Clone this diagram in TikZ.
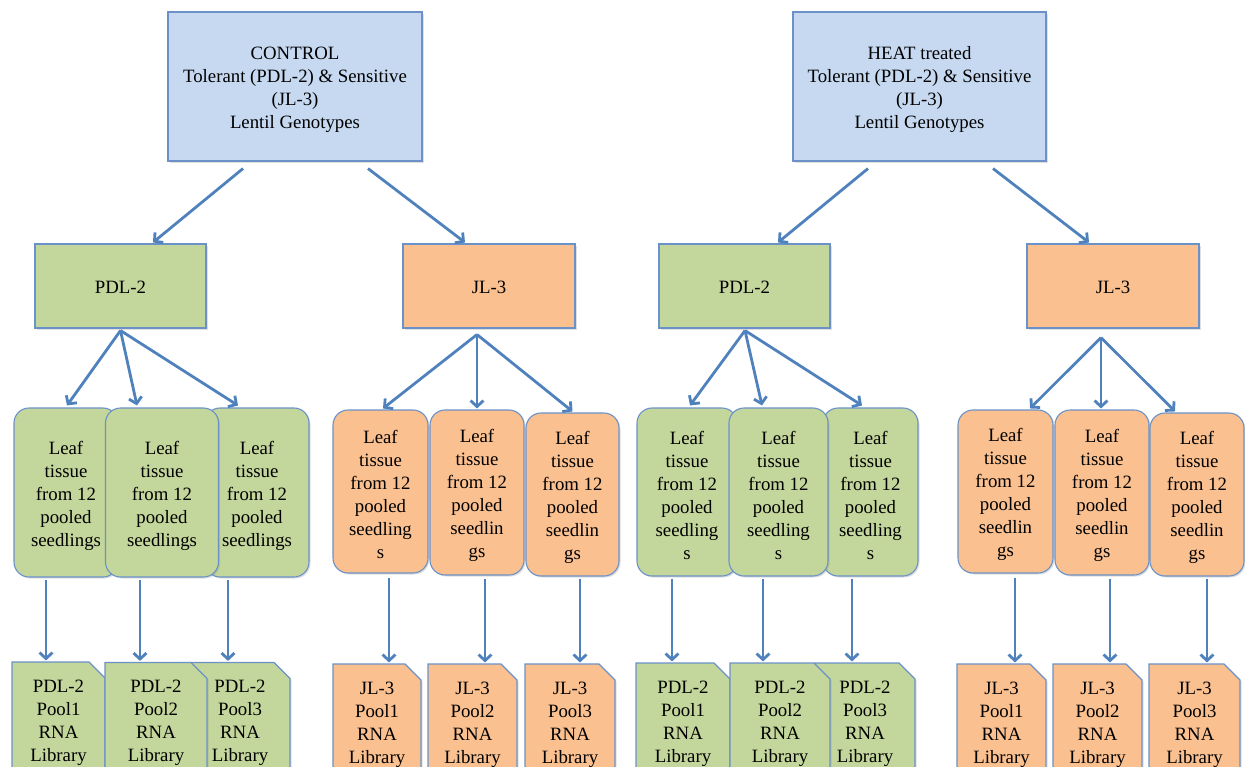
\documentclass[tikz,border=0pt]{standalone}
\usepackage{fontspec}
\setmainfont{Liberation Serif}
\usetikzlibrary{arrows.meta,shapes.misc,shadows}
\definecolor{topfill}{HTML}{C6D9F1}
\definecolor{greenfill}{HTML}{C3D69B}
\definecolor{orangefill}{HTML}{FAC090}
\definecolor{edgeblue}{HTML}{6A92C8}
\definecolor{arrowblue}{HTML}{4F81BD}
\newcommand{\fstrut}{\rule{0pt}{20pt}}
\newcommand{\sstrut}{\rule{0pt}{16pt}}
\tikzset{
  basebox/.style={draw=edgeblue, line width=1.1pt, align=center, inner sep=2pt,
    font=\fontsize{18.8}{23}\selectfont, text=black,
    drop shadow={shadow xshift=1.5pt, shadow yshift=-1.5pt, opacity=0.25}},
  topbox/.style={basebox, fill=topfill, rectangle},
  greenbox/.style={basebox, fill=greenfill, rectangle},
  orangebox/.style={basebox, fill=orangefill, rectangle},
  gleaf/.style={greenbox, rounded corners=15pt},
  oleaf/.style={orangebox, rounded corners=15pt},
  libshape/.style={chamfered rectangle, chamfered rectangle corners=north east,
    chamfered rectangle xsep=7.5pt, chamfered rectangle ysep=8.5pt},
  glib/.style={basebox, fill=greenfill, libshape},
  olib/.style={basebox, fill=orangefill, libshape},
  arr/.style={draw=arrowblue, line width=2.8pt,
    -{Straight Barb[length=6pt,width=13pt]}},
}
\begin{document}
\begin{tikzpicture}[x=1pt,y=-1pt]
\useasboundingbox (0,0) rectangle (1245,766);
\clip (0,0) rectangle (1245,766);
% top boxes
\node[topbox, minimum width=254pt, minimum height=149pt] (ctl) at (295,86.5)
  {\fstrut CONTROL\\Tolerant (PDL-2) \& Sensitive\\(JL-3)\\Lentil Genotypes};
\node[topbox, minimum width=253pt, minimum height=149pt] (heat) at (919.5,86.5)
  {\fstrut HEAT treated\\Tolerant (PDL-2) \& Sensitive\\(JL-3)\\Lentil Genotypes};
% level 2
\node[greenbox, minimum width=171pt, minimum height=84pt] (pdlA) at (120.5,286) {\sstrut PDL-2};
\node[orangebox, minimum width=172pt, minimum height=84pt] (jlA) at (489,286) {\sstrut JL-3};
\node[greenbox, minimum width=171pt, minimum height=84pt] (pdlB) at (744.5,286) {\sstrut PDL-2};
\node[orangebox, minimum width=172pt, minimum height=84pt] (jlB) at (1113,286) {\sstrut JL-3};
% leaf boxes group A (PDL-2 control)
\node[gleaf, minimum width=104pt, minimum height=169pt] (lA1) at (66,492.5)
  {\fstrut Leaf\\tissue\\from 12\\pooled\\seedlings};
\node[gleaf, minimum width=104pt, minimum height=169pt] (lA3) at (257,492.5)
  {\fstrut Leaf\\tissue\\from 12\\pooled\\seedlings};
\node[gleaf, minimum width=113pt, minimum height=169pt] (lA2) at (162,492.5)
  {\fstrut Leaf\\tissue\\from 12\\pooled\\seedlings};
% group B (JL-3 control)
\node[oleaf, minimum width=95pt, minimum height=163pt] (lB1) at (380.5,491.5)
  {\fstrut Leaf\\tissue\\from 12\\pooled\\seedling\\s};
\node[oleaf, minimum width=94pt, minimum height=165pt] (lB2) at (477,492.5)
  {\fstrut Leaf\\tissue\\from 12\\pooled\\seedlin\\gs};
\node[oleaf, minimum width=93pt, minimum height=163pt] (lB3) at (572.5,494.5)
  {\fstrut Leaf\\tissue\\from 12\\pooled\\seedlin\\gs};
% group C (PDL-2 heat)
\node[gleaf, minimum width=100pt, minimum height=168pt] (lC1) at (687,492)
  {\fstrut Leaf\\tissue\\from 12\\pooled\\seedling\\s};
\node[gleaf, minimum width=95pt, minimum height=168pt] (lC3) at (870.5,492)
  {\fstrut Leaf\\tissue\\from 12\\pooled\\seedling\\s};
\node[gleaf, minimum width=99pt, minimum height=168pt] (lC2) at (778.5,492)
  {\fstrut Leaf\\tissue\\from 12\\pooled\\seedling\\s};
% group D (JL-3 heat)
\node[oleaf, minimum width=95pt, minimum height=163pt] (lD1) at (1005.5,491.5)
  {\fstrut Leaf\\tissue\\from 12\\pooled\\seedlin\\gs};
\node[oleaf, minimum width=94pt, minimum height=165pt] (lD2) at (1102,492.5)
  {\fstrut Leaf\\tissue\\from 12\\pooled\\seedlin\\gs};
\node[oleaf, minimum width=94pt, minimum height=163pt] (lD3) at (1197,494.5)
  {\fstrut Leaf\\tissue\\from 12\\pooled\\seedlin\\gs};
% library boxes
\node[glib, minimum width=93pt, minimum height=115pt] (bA1) at (58.5,719.5) {\fstrut PDL-2\\Pool1\\RNA\\Library};
\node[glib, minimum width=100pt, minimum height=113pt] (bA3) at (240,719.5) {\fstrut PDL-2\\Pool3\\RNA\\Library};
\node[glib, minimum width=102pt, minimum height=113pt] (bA2) at (156,719.5) {\fstrut PDL-2\\Pool2\\RNA\\Library};
\node[olib, minimum width=88pt, minimum height=115pt] (bB1) at (377,721.5) {\fstrut JL-3\\Pool1\\RNA\\Library};
\node[olib, minimum width=89pt, minimum height=115pt] (bB2) at (472.5,721.5) {\fstrut JL-3\\Pool2\\RNA\\Library};
\node[olib, minimum width=90pt, minimum height=115pt] (bB3) at (570,721.5) {\fstrut JL-3\\Pool3\\RNA\\Library};
\node[glib, minimum width=94pt, minimum height=115pt] (bC1) at (683,720.5) {\fstrut PDL-2\\Pool1\\RNA\\Library};
\node[glib, minimum width=100pt, minimum height=115pt] (bC3) at (865,720.5) {\fstrut PDL-2\\Pool3\\RNA\\Library};
\node[glib, minimum width=100pt, minimum height=115pt] (bC2) at (780,720.5) {\fstrut PDL-2\\Pool2\\RNA\\Library};
\node[olib, minimum width=89pt, minimum height=115pt] (bD1) at (1001.5,721.5) {\fstrut JL-3\\Pool1\\RNA\\Library};
\node[olib, minimum width=89pt, minimum height=115pt] (bD2) at (1097.5,721.5) {\fstrut JL-3\\Pool2\\RNA\\Library};
\node[olib, minimum width=91pt, minimum height=115pt] (bD3) at (1194.5,721.5) {\fstrut JL-3\\Pool3\\RNA\\Library};
% arrows top -> level 2
\draw[arr] ([xshift=-52pt,yshift=-7pt]ctl.south) -- ([xshift=32.5pt,yshift=1pt]pdlA.north);
\draw[arr] ([xshift=73pt,yshift=-7pt]ctl.south) -- ([xshift=-24pt,yshift=1pt]jlA.north);
\draw[arr] ([xshift=-51.5pt,yshift=-7pt]heat.south) -- ([xshift=33.5pt,yshift=1pt]pdlB.north);
\draw[arr] ([xshift=73.5pt,yshift=-7pt]heat.south) -- ([xshift=-24pt,yshift=1pt]jlB.north);
% fans
\draw[arr] ([yshift=-2pt]pdlA.south) -- ([xshift=1pt,yshift=2pt]lA1.north);
\draw[arr] ([yshift=-2pt]pdlA.south) -- ([xshift=-25pt,yshift=2pt]lA2.north);
\draw[arr] ([yshift=-2pt]pdlA.south) -- ([xshift=-19pt,yshift=2pt]lA3.north);
\draw[arr] ([xshift=-12pt,yshift=-6pt]jlA.south) -- ([xshift=2.5pt,yshift=1pt]lB1.north);
\draw[arr] ([xshift=-12pt,yshift=-6pt]jlA.south) -- ([yshift=1pt]lB2.north);
\draw[arr] ([xshift=-12pt,yshift=-6pt]jlA.south) -- ([yshift=1pt]lB3.north);
\draw[arr] ([xshift=0.5pt,yshift=-2pt]pdlB.south) -- ([xshift=3pt,yshift=2pt]lC1.north);
\draw[arr] ([xshift=0.5pt,yshift=-2pt]pdlB.south) -- ([xshift=-16.5pt,yshift=2pt]lC2.north);
\draw[arr] ([xshift=0.5pt,yshift=-2pt]pdlB.south) -- ([xshift=-8.5pt,yshift=2pt]lC3.north);
\draw[arr] ([xshift=-12pt,yshift=-9pt]jlB.south) -- ([xshift=24.5pt,yshift=1pt]lD1.north);
\draw[arr] ([xshift=-12pt,yshift=-9pt]jlB.south) -- ([xshift=-1pt,yshift=1pt]lD2.north);
\draw[arr] ([xshift=-12pt,yshift=-9pt]jlB.south) -- ([xshift=-22pt,yshift=1pt]lD3.north);
% down arrows
\draw[arr] ([xshift=-20pt,yshift=-2pt]lA1.south) -- ([xshift=-12.5pt,yshift=1pt]bA1.north);
\draw[arr] ([xshift=-22pt,yshift=-2pt]lA2.south) -- ([xshift=-16pt,yshift=1pt]bA2.north);
\draw[arr] ([xshift=-29pt,yshift=-2pt]lA3.south) -- ([xshift=-12pt,yshift=1pt]bA3.north);
\draw[arr] ([xshift=8.5pt,yshift=-4pt]lB1.south) -- ([xshift=12pt,yshift=1pt]bB1.north);
\draw[arr] ([xshift=8pt,yshift=-3pt]lB2.south) -- ([xshift=12.5pt,yshift=1pt]bB2.north);
\draw[arr] ([xshift=7.5pt,yshift=-2pt]lB3.south) -- ([xshift=10pt,yshift=1pt]bB3.north);
\draw[arr] ([xshift=-15pt,yshift=-2pt]lC1.south) -- ([xshift=-11pt,yshift=1pt]bC1.north);
\draw[arr] ([xshift=-15.5pt,yshift=-2pt]lC2.south) -- ([xshift=-17pt,yshift=1pt]bC2.north);
\draw[arr] ([xshift=-18.5pt,yshift=-2pt]lC3.south) -- ([xshift=-13pt,yshift=1pt]bC3.north);
\draw[arr] ([xshift=9.5pt,yshift=-4pt]lD1.south) -- ([xshift=13.5pt,yshift=1pt]bD1.north);
\draw[arr] ([xshift=8pt,yshift=-3pt]lD2.south) -- ([xshift=12.5pt,yshift=1pt]bD2.north);
\draw[arr] ([xshift=10pt,yshift=-2pt]lD3.south) -- ([xshift=12.5pt,yshift=1pt]bD3.north);
\end{tikzpicture}
\end{document}
